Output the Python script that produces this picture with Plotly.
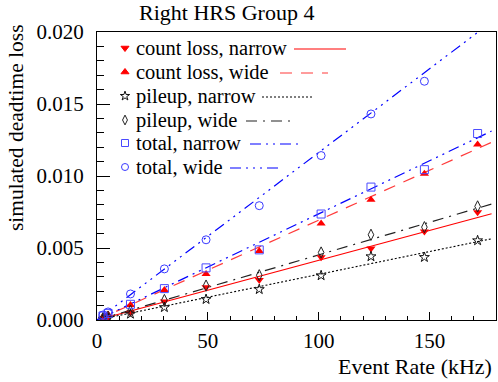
import plotly.graph_objects as go

# ---------------- data ----------------
rate = [2.7, 5.0, 15.1, 30.4, 49.2, 73.2, 101.1, 123.6, 147.7, 171.7]
count_loss_narrow = [0.00012, 0.00019, 0.00051, 0.00128, 0.00227, 0.00278, 0.00436, 0.00497, 0.00615, 0.00749]
count_loss_wide = [0.00023, 0.00039, 0.00104, 0.00209, 0.00320, 0.00480, 0.00671, 0.00835, 0.01016, 0.01218]
pileup_narrow = [0.00007, 0.00012, 0.00042, 0.00088, 0.00144, 0.00213, 0.00309, 0.00441, 0.00436, 0.00552]
pileup_wide = [0.00014, 0.00023, 0.00065, 0.00139, 0.00239, 0.00311, 0.00469, 0.00592, 0.00645, 0.00789]
total_narrow = [0.00028, 0.00046, 0.00109, 0.00218, 0.00362, 0.00487, 0.00736, 0.00923, 0.01044, 0.01295]
total_wide = [0.00035, 0.00056, 0.00181, 0.00355, 0.00557, 0.00794, 0.01142, 0.01431, 0.01658, 0.02060]

fit_x = [0, 178]
fit_count_loss_narrow = [0.0, 0.00738]
fit_count_loss_wide = [0.0, 0.01234]
fit_pileup_narrow = [0.0, 0.00564]
fit_pileup_wide = [0.0, 0.00805]
fit_total_narrow = [0.0, 0.01312]
fit_total_wide = [0.0, 0.02070]

y_ticks = [0.0, 0.005, 0.010, 0.015, 0.020]
x_ticks = [0, 50, 100, 150]

title_text = "Right HRS Group 4"
x_title = "Event Rate (kHz)"
y_title = "simulated deadtime loss"

# ---------------- styles ----------------
RED = "#ff0000"
BLUE = "#0000ff"
BLK = "#000000"
FONT = "Liberation Serif, Times New Roman, serif"

series = [
    ("count loss, narrow", count_loss_narrow, fit_count_loss_narrow, "triangle-down", RED, RED, "solid", 1.2),
    ("count loss, wide", count_loss_wide, fit_count_loss_wide, "triangle-up", RED, "#ff3b3b", "12px,9px", 1.2),
    ("pileup, narrow", pileup_narrow, fit_pileup_narrow, "star-open", "#111111", BLK, "2px,2px", 1.1),
    ("pileup, wide", pileup_wide, fit_pileup_wide, "diamond-tall-open", "#222222", "#222222", "11px,6px,2px,6px", 1.2),
    ("total, narrow", total_narrow, fit_total_narrow, "square-open", "#4a4aff", BLUE, "11px,5px,2px,5px,2px,5px", 1.2),
    ("total, wide", total_wide, fit_total_wide, "circle-open", "#3a3aff", BLUE, "11px,5px,2px,5px,2px,5px,2px,5px", 1.2),
]

W, H = 498, 382
L, R, T, B = 97, 2, 32, 62
PW, PH = W - L - R, H - T - B


def px(xp):
    return (xp - L) / PW


def py(yp):
    return (H - B - yp) / PH


fig = go.Figure()

for name, vals, fit, sym, mcol, lcol, dash, lw in series:
    fig.add_trace(go.Scatter(x=fit_x, y=fit, mode="lines",
                             line=dict(color=lcol, width=lw, dash=dash),
                             showlegend=False, hoverinfo="skip"))
for name, vals, fit, sym, mcol, lcol, dash, lw in series:
    filled = not sym.endswith("open")
    fig.add_trace(go.Scatter(x=rate, y=vals, mode="markers", name=name,
                             marker=dict(symbol=sym, size=7.5 if sym == "star-open" else 8,
                                         color=mcol,
                                         line=dict(color=mcol, width=1 if not filled else 0)),
                             showlegend=False))

# ---------------- manual legend (ROOT style: marker, text, line sample) ----------------
leg_rows_y = [48, 72, 96, 120, 143, 167]
leg_line_x = [(294, 346), (280, 328), (262, 313), (246, 294), (250, 299), (230, 279)]
annotations = []
shapes = []
for i, (name, vals, fit, sym, mcol, lcol, dash, lw) in enumerate(series):
    yy = leg_rows_y[i]
    fig.add_trace(go.Scatter(x=[px(125)], y=[py(yy)], mode="markers",
                             xaxis="x2", yaxis="y2", cliponaxis=False,
                             marker=dict(symbol=sym, size=7, color=mcol,
                                         line=dict(color=mcol, width=1)),
                             showlegend=False, hoverinfo="skip"))
    annotations.append(dict(x=px(134), y=py(yy), xref="paper", yref="paper",
                            text=name, showarrow=False, xanchor="left", yanchor="middle",
                            font=dict(family=FONT, size=20.5, color="black")))
    x0, x1 = leg_line_x[i]
    shapes.append(dict(type="line", xref="paper", yref="paper",
                       x0=px(x0), x1=px(x1), y0=py(yy + 1), y1=py(yy + 1),
                       line=dict(color=lcol, width=lw, dash=dash)))

annotations.append(dict(x=px(226), y=py(12.5), xref="paper", yref="paper", text=title_text,
                        showarrow=False, xanchor="center", yanchor="middle",
                        font=dict(family=FONT, size=22, color="black")))
annotations.append(dict(x=px(494), y=py(366), xref="paper", yref="paper", text=x_title,
                        showarrow=False, xanchor="right", yanchor="middle",
                        font=dict(family=FONT, size=22, color="black")))
annotations.append(dict(x=px(16), y=py(128), xref="paper", yref="paper", text=y_title,
                        showarrow=False, xanchor="center", yanchor="middle", textangle=-90,
                        font=dict(family=FONT, size=21.5, color="black")))

fig.update_layout(
    width=W, height=H,
    margin=dict(l=L, r=R, t=T, b=B, pad=0),
    paper_bgcolor="white", plot_bgcolor="white",
    font=dict(family=FONT, color="black"),
    showlegend=False,
    annotations=annotations,
    shapes=shapes,
    xaxis=dict(range=[0, 180], tickvals=x_ticks, ticktext=[str(v) for v in x_ticks],
               ticks="inside", ticklen=8, tickcolor="black", tickwidth=1,
               minor=dict(dtick=10, tick0=0, ticks="inside", ticklen=4, tickcolor="black", showgrid=False),
               showgrid=False, zeroline=False, showline=True, linecolor="black", linewidth=1,
               mirror=True, tickfont=dict(family=FONT, size=21, color="black"),
               ticklabelstandoff=2),
    yaxis=dict(range=[0, 0.020], tickvals=y_ticks, ticktext=["%.3f" % v for v in y_ticks],
               ticks="inside", ticklen=13, tickcolor="black", tickwidth=1,
               minor=dict(dtick=0.001, tick0=0, ticks="inside", ticklen=7, tickcolor="black", showgrid=False),
               showgrid=False, zeroline=False, showline=True, linecolor="black", linewidth=1,
               mirror=True, tickfont=dict(family=FONT, size=21, color="black"),
               ticklabelstandoff=8),
    xaxis2=dict(range=[0, 1], overlaying="x", visible=False, fixedrange=True),
    yaxis2=dict(range=[0, 1], overlaying="y", visible=False, fixedrange=True),
)

fig.write_html("out.html", config={"displayModeBar": False},
               post_script="document.body.style.margin='0';document.body.style.padding='0';")
